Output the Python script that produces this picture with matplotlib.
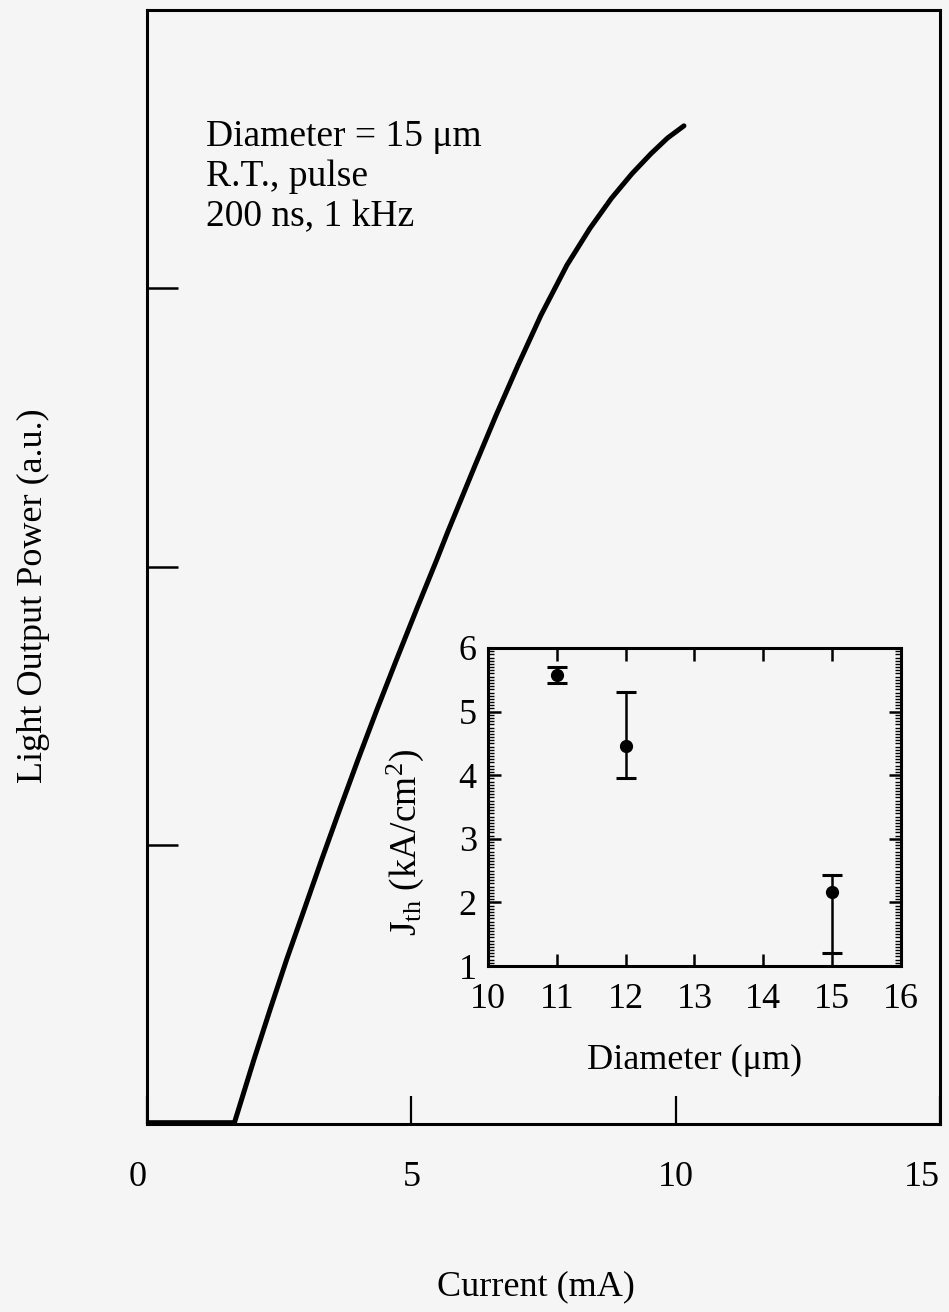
import matplotlib
matplotlib.use('Agg')
import matplotlib.pyplot as plt
from matplotlib.ticker import MultipleLocator

plt.rcParams['font.family'] = ['Liberation Serif', 'DejaVu Serif']
plt.rcParams['mathtext.fontset'] = 'custom'
plt.rcParams['mathtext.rm'] = 'Liberation Serif'
plt.rcParams['mathtext.it'] = 'Liberation Serif:italic'

# L-I curve
current = [0.0, 1.646, 2.024, 2.330, 2.644, 2.970, 3.302, 3.643, 3.991, 4.350,
           4.721, 5.099, 5.485, 5.693, 6.204, 6.601, 7.017, 7.452, 7.944,
           8.379, 8.786, 9.173, 9.533, 9.845, 10.157]
power = [0.0, 0.0, 0.058, 0.103, 0.148, 0.192, 0.237, 0.282, 0.327, 0.372,
         0.417, 0.462, 0.507, 0.532, 0.591, 0.636, 0.681, 0.726, 0.771,
         0.804, 0.831, 0.853, 0.871, 0.885, 0.896]

# inset: threshold current density vs diameter
diam = [11, 12, 15]
jth = [5.58, 4.46, 2.16]
err_low = [0.13, 0.50, 0.96]
err_high = [0.12, 0.85, 0.27]

bg = '#f5f5f5'
fig = plt.figure(figsize=(9.49, 13.12), dpi=100, facecolor=bg)

# 主图
ax = fig.add_axes([0.1549, 0.1433, 0.8356, 0.8491], facecolor=bg)
ax.plot(current[:2], power[:2], color='black', lw=5.5, solid_capstyle='butt')
ax.plot(current[1:], power[1:], color='black', lw=3.6,
        solid_capstyle='round', solid_joinstyle='round')
ax.set_xlim(0, 15)
ax.set_ylim(0, 1)
ax.set_xticks([0, 5, 10, 15])
ax.set_xticklabels(['0', '5', '10', '15'])
ax.set_yticks([0.25, 0.5, 0.75])
ax.set_yticklabels([])
ax.tick_params(axis='x', direction='in', length=20, width=1.6, labelsize=26, pad=27)
ax.tick_params(axis='y', direction='in', length=22, width=1.8)
ax.get_xticklabels()[-1].set_horizontalalignment('right')
ax.get_xticklabels()[0].set_horizontalalignment('right')
for s in ax.spines.values():
    s.set_linewidth(2.2)

ax.text(1.12, 0.902, 'Diameter = 15 \u03bcm\nR.T., pulse\n200 ns, 1 kHz',
        fontsize=27, va='top', ha='left', linespacing=1.22)

fig.text(0.565, 0.019, 'Current (mA)', fontsize=26, ha='center', va='center')
fig.text(0.035, 0.546, 'Light Output Power (a.u.)', fontsize=26,
         ha='center', va='center', rotation=90)

# 插图
ins = fig.add_axes([0.5142, 0.2637, 0.4352, 0.2424], facecolor=bg)
ins.errorbar(diam, jth, yerr=[err_low, err_high], fmt='o', color='black',
             ms=8.5, elinewidth=1.8, capsize=7, capthick=2.2)
ins.set_xlim(10, 16)
ins.set_ylim(1, 6)
ins.xaxis.set_major_locator(MultipleLocator(1))
ins.yaxis.set_major_locator(MultipleLocator(1))
ins.yaxis.set_minor_locator(MultipleLocator(0.05))
ins.tick_params(which='major', direction='in', top=True, right=True,
                length=9, width=1.8, labelsize=26)
ins.tick_params(axis='x', which='major', pad=12)
ins.tick_params(axis='y', which='major', pad=8)
ins.tick_params(which='minor', direction='in', left=True, right=True,
                length=4, width=1.0)
for s in ins.spines.values():
    s.set_linewidth(2.2)
ins.set_xlabel('Diameter (\u03bcm)', fontsize=26, labelpad=20)
ins.set_ylabel('J$_{\\mathrm{th}}$ (kA/cm$^{\\mathrm{2}}$)', fontsize=27)
ins.yaxis.set_label_coords(-0.15, 0.39)

fig.savefig('out.png', dpi=100, facecolor=bg)
